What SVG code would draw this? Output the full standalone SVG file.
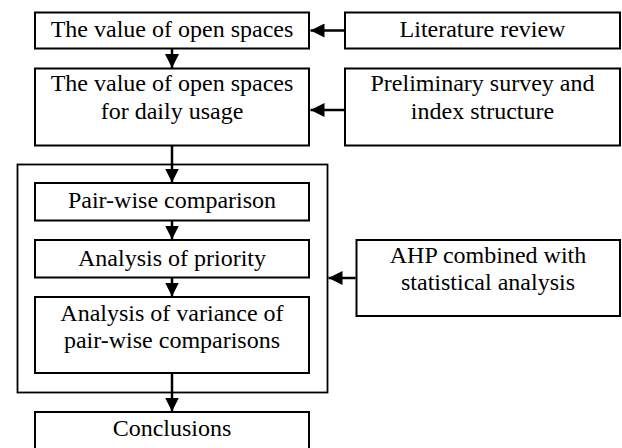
<svg xmlns="http://www.w3.org/2000/svg" width="622" height="448" viewBox="0 0 622 448">
<defs>
<marker id="ah" viewBox="0 0 14 14" refX="14" refY="7" markerWidth="14" markerHeight="14" markerUnits="userSpaceOnUse" orient="auto">
<path d="M0,0 L14,7 L0,14 Z" fill="#000"/>
</marker>
</defs>
<style>
.box{fill:#fff;stroke:#000;stroke-width:2}
.cont{fill:none;stroke:#000;stroke-width:1.8}
.t{font-family:"Liberation Serif","Times New Roman",serif;font-size:24px;fill:#000;text-anchor:middle}
.c{stroke:#000;stroke-width:2.5;fill:none;marker-end:url(#ah)}
</style>
<rect width="622" height="448" fill="#fff"/>
<g id="container"><rect class="cont" x="17.5" y="164.5" width="310" height="228"/></g>
<g id="n1"><rect class="box" x="35" y="12.5" width="274" height="36"/><text class="t" x="172" y="37">The value of open spaces</text></g>
<g id="n2"><rect class="box" x="345" y="12.5" width="275" height="36"/><text class="t" x="482.5" y="37">Literature review</text></g>
<g id="n3"><rect class="box" x="35" y="68.5" width="274" height="77"/><text class="t" x="172" y="91">The value of open spaces</text><text class="t" x="172" y="118.5">for daily usage</text></g>
<g id="n4"><rect class="box" x="345" y="68.5" width="275" height="77"/><text class="t" x="482.5" y="91">Preliminary survey and</text><text class="t" x="482.5" y="118.5">index structure</text></g>
<g id="n5"><rect class="box" x="35" y="183" width="274" height="37.5"/><text class="t" x="172" y="208">Pair-wise comparison</text></g>
<g id="n6"><rect class="box" x="35" y="240" width="274" height="37.5"/><text class="t" x="172" y="265.5">Analysis of priority</text></g>
<g id="n7"><rect class="box" x="35" y="297" width="274" height="76"/><text class="t" x="172" y="320.5">Analysis of variance of</text><text class="t" x="172" y="348">pair-wise comparisons</text></g>
<g id="n8"><rect class="box" x="356.5" y="240" width="263.5" height="76"/><text class="t" x="488" y="262.5">AHP combined with</text><text class="t" x="488" y="290">statistical analysis</text></g>
<g id="n9"><rect class="box" x="35" y="412" width="274" height="50"/><text class="t" x="172" y="436">Conclusions</text></g>
<g id="connectors">
<line class="c" x1="172" y1="49" x2="172" y2="68"/>
<line class="c" x1="172" y1="146" x2="172" y2="182.5"/>
<line class="c" x1="172" y1="221" x2="172" y2="239.5"/>
<line class="c" x1="172" y1="278" x2="172" y2="296.5"/>
<line class="c" x1="172" y1="373.5" x2="172" y2="411.5"/>
<line class="c" x1="344" y1="30.5" x2="310.5" y2="30.5"/>
<line class="c" x1="344" y1="110" x2="310.5" y2="110"/>
<line class="c" x1="355.5" y1="278" x2="328.5" y2="278"/>
</g>
</svg>
